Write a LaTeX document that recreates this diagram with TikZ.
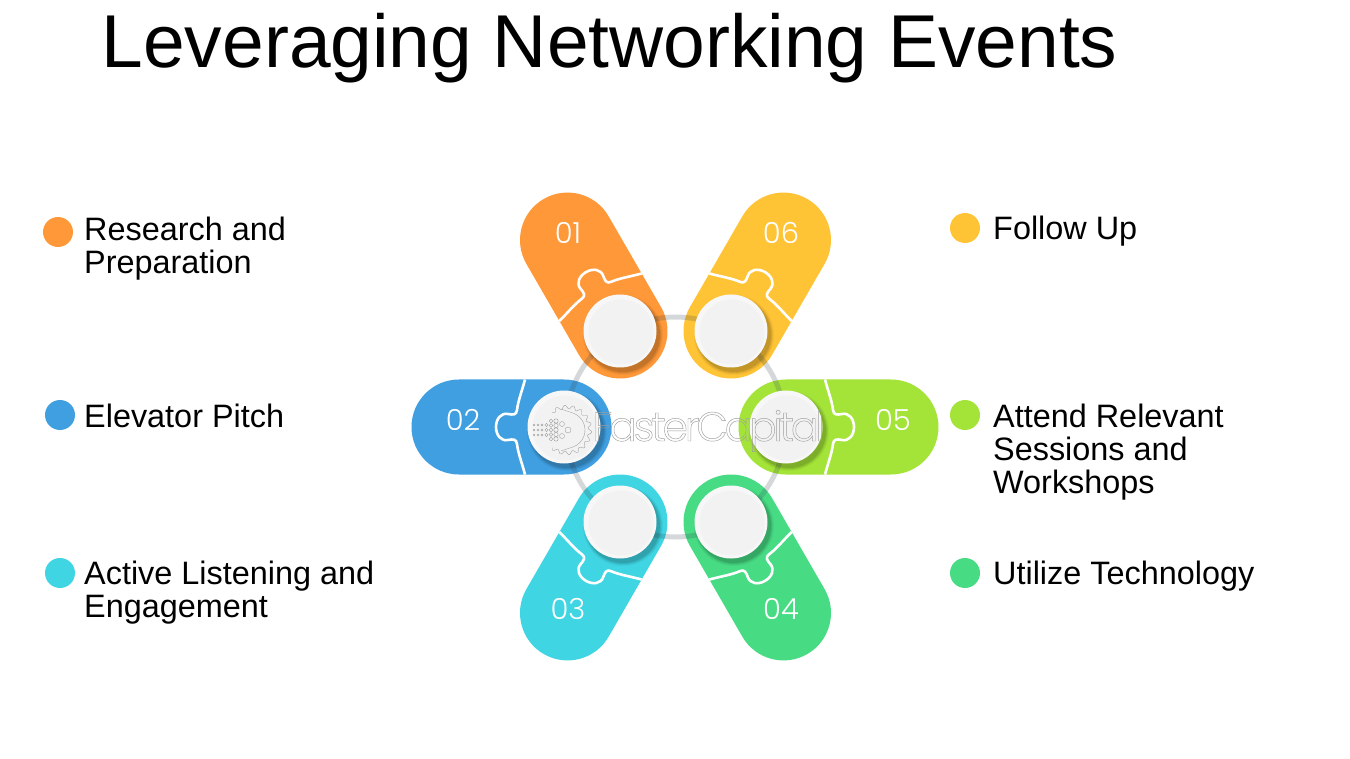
\documentclass[tikz,border=0pt]{standalone}
\usepackage{fontspec}
\setmainfont{Liberation Sans}
\newfontfamily\numfont{Poppins Light}
\newfontfamily\wmfont[LetterSpace=-8]{Poppins Light}
\definecolor{corange}{HTML}{FF9838}
\definecolor{cblue}{HTML}{3F9FE0}
\definecolor{ccyan}{HTML}{3FD5E3}
\definecolor{cgreen}{HTML}{47DB84}
\definecolor{clime}{HTML}{A4E438}
\definecolor{cyellow}{HTML}{FFC435}
\definecolor{cring}{HTML}{3C4A55}
\tikzset{
  label text/.style={anchor=base west,align=left,inner sep=0pt,font=\fontsize{32.4}{33}\selectfont,text=black},
  bullet/.style={circle,inner sep=0pt,minimum size=30pt},
  pillnum/.style={text=white,inner sep=0pt,font=\numfont\fontsize{29}{29}\selectfont},
  seam/.style={draw=white,line width=2.6pt},
  ringline/.style={draw=cring,line width=5pt,opacity=.21},
  wm/.style={inner sep=0pt,anchor=base west},
  logo/.style={draw=black!40,line width=.35pt}
}
\newcommand{\pillshape}[4]{% cx cy angle colour
  \begin{scope}[shift={(#1,#2)},rotate=#3]
    \fill[#4] (0,-47.5) -- (105,-47.5) arc[start angle=-90,end angle=90,radius=47.5] -- (0,47.5) arc[start angle=90,end angle=270,radius=47.5] -- cycle;
    \draw[seam] (39,-47.5) .. controls (42,-36) and (46,-26) .. (47,-17)
       .. controls (47.5,-12) and (51,-12) .. (56,-13)
       .. controls (63,-14.5) and (68,-8) .. (68,0)
       .. controls (68,8) and (63,14.5) .. (56,13)
       .. controls (51,12) and (47.5,12) .. (47,17)
       .. controls (46,26) and (42,36) .. (39,47.5);
  \end{scope}
}
\newcommand{\disc}[3]{% cx cy name
  \foreach \r/\o in {40/.04,39/.05,38/.07,37/.09}{
    \fill[black,opacity=\o] (#1+3,#2+4) circle[radius=\r];
  }
  \fill[white!97!black] (#1,#2) circle[radius=36.5];
  \fill[white!95!black] (#1+1,#2+1) circle[radius=32.5];
  \coordinate (#3) at (#1,#2);
}
\begin{document}
\begin{tikzpicture}[x=1pt,y=-1pt]
\useasboundingbox (0,0) rectangle (1350,759);
\fill[white] (0,0) rectangle (1350,759);
\node[inner sep=0pt,anchor=base west,font=\fontsize{74.9}{80}\selectfont] (title) at (101.5,68) {Leveraging Networking Events};
% pills
\pillshape{620}{331}{120}{corange}
\pillshape{731}{331}{60}{cyellow}
\pillshape{564}{427}{180}{cblue}
\pillshape{786}{427}{0}{clime}
\pillshape{620}{522}{240}{ccyan}
\pillshape{731}{522}{-60}{cgreen}
% ring
\draw[ringline] (675.5,427) circle[radius=110];
% numbers
\node[pillnum] (n1) at (568,233) {01};
\node[pillnum] (n6) at (781,233) {06};
\node[pillnum] (n2) at (463,420) {02};
\node[pillnum] (n5) at (893,420) {05};
\node[pillnum] (n3) at (568,609) {03};
\node[pillnum] (n4) at (781,609) {04};
% discs
\disc{620}{331}{d1}
\disc{731}{331}{d6}
\disc{564}{427}{d2}
\disc{786}{427}{d5}
\disc{620}{522}{d3}
\disc{731}{522}{d4}
% watermark logo
\draw[logo] plot[domain=-130:130,samples=260] ({567+(23+1.8*sin(18*\x))*cos(\x)},{430+(23+1.8*sin(18*\x))*sin(\x)});
\draw[logo] (567,430) ++(-70:18) arc[start angle=-70,end angle=70,radius=18];
\draw[logo] (567,430) ++(-70:18) -- ++(-12,-4);
\draw[logo] (567,430) ++(70:18) -- ++(-12,4);
\foreach \px/\py/\pr in {
  534/425/.8,534/430/.8,534/435/.8,538/425/1,538/430/1,538/435/1,
  542/425/1.2,542/430/1.2,542/435/1.2,546.5/425/1.6,546.5/430/1.6,546.5/435/1.6,
  551/421/1.8,551/425.5/1.8,551/430/1.8,551/434.5/1.8,551/439/1.8,
  556/421/2.2,556/425.5/2.2,556/430/2.2,556/434.5/2.2,556/439/2.2,
  562/424/2.5,562/436/2.5,568/430/3}{
  \draw[logo] (\px,\py) circle[radius=\pr];
}
% watermark
\node[wm,font=\wmfont\fontsize{41}{41}\selectfont] (wm) at (592,441) {\color{black!40}\special{pdf:code 1 Tr 0.45 w 0.62 0.62 0.62 RG}FasterCapital\special{pdf:code 0 Tr}};
% bullets
\node[bullet,fill=corange] (b1) at (58,232) {};
\node[bullet,fill=cblue] (b2) at (60,415) {};
\node[bullet,fill=ccyan] (b3) at (60,573) {};
\node[bullet,fill=cyellow] (b6) at (965,228) {};
\node[bullet,fill=clime] (b5) at (965,415) {};
\node[bullet,fill=cgreen] (b4) at (965,573) {};
\node[label text] (t1) at (84,273.5) {Research and\\Preparation};
\node[label text] (t2) at (84,427) {Elevator Pitch};
\node[label text] (t3) at (84,617.5) {Active Listening and\\Engagement};
\node[label text] (t6) at (993,240) {Follow Up};
\node[label text] (t5) at (993,493.5) {Attend Relevant\\Sessions and\\Workshops};
\node[label text] (t4) at (993,584) {Utilize Technology};
\end{tikzpicture}
\end{document}
